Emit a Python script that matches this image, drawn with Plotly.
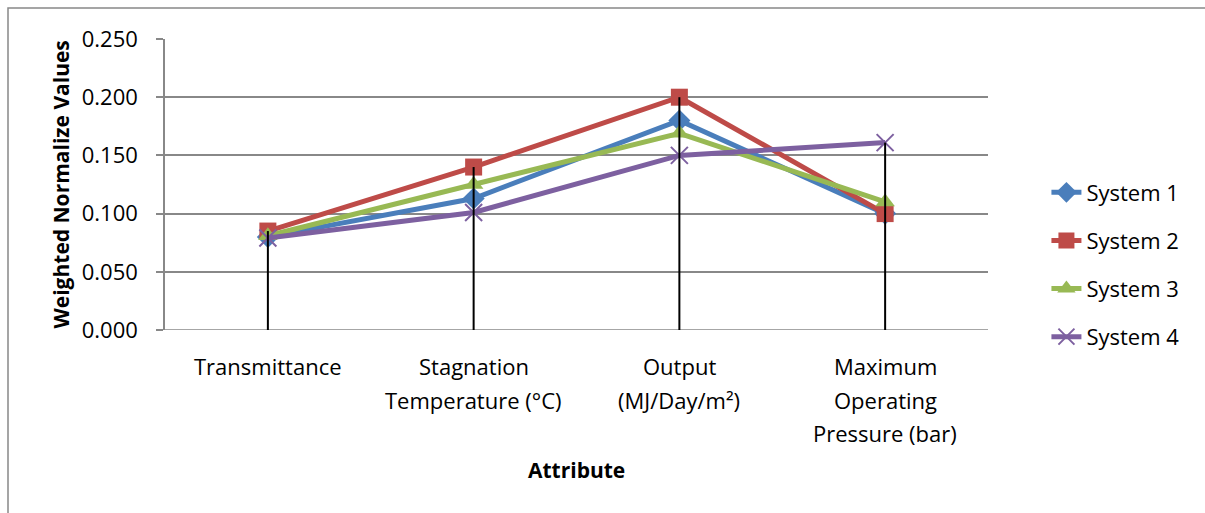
import plotly.graph_objects as go

categories = ["Transmittance", "Stagnation<br>Temperature (°C)", "Output<br>(MJ/Day/m²)",
              "Maximum<br>Operating<br>Pressure (bar)"]
series_names = ["System 1", "System 2", "System 3", "System 4"]
system1 = [0.080, 0.113, 0.180, 0.100]
system2 = [0.085, 0.140, 0.200, 0.100]
system3 = [0.081, 0.125, 0.169, 0.110]
system4 = [0.079, 0.101, 0.150, 0.161]
y_ticks = [0.0, 0.05, 0.10, 0.15, 0.20, 0.25]

colors = ["#4A7EBB", "#BE4B48", "#98B954", "#7D60A0"]
symbols = ["diamond", "square", "triangle-up", "x-thin-open"]
sizes = [17, 17, 17, 17]
FONT = "Open Sans"
FS = 22
PLOT_H = 291

fig = go.Figure()
all_series = [system1, system2, system3, system4]
for i, (name, vals) in enumerate(zip(series_names, all_series)):
    marker = dict(symbol=symbols[i], size=sizes[i], color=colors[i])
    if symbols[i] == "x-thin-open":
        marker["line"] = dict(color=colors[i], width=2)
    fig.add_trace(go.Scatter(
        x=categories, y=vals, name=name, mode="lines+markers",
        line=dict(color=colors[i], width=5), marker=marker,
        legendgroup=name,
    ))

# drop lines from highest value to axis
dx, dy = [], []
for j, c in enumerate(categories):
    top = max(s[j] for s in all_series)
    dx += [c, c, None]
    dy += [0, top, None]
fig.add_trace(go.Scatter(x=dx, y=dy, mode="lines", line=dict(color="black", width=2),
                         showlegend=False, hoverinfo="skip"))

# category labels: one line per annotation, placed on the category axis
annotations = []
for c in categories:
    for k, line in enumerate(c.split("<br>")):
        annotations.append(dict(text=line, xref="x", yref="paper", x=c,
                                y=-(36 + 33.5 * k) / PLOT_H, xanchor="center",
                                yanchor="middle", showarrow=False,
                                font=dict(family=FONT, size=FS)))

annotations += [
    dict(text="<b>Weighted Normalize Values</b>", xref="paper", yref="paper",
         x=(60 - 165) / 823, y=0.5, xanchor="center", yanchor="middle",
         textangle=-90, showarrow=False, font=dict(family=FONT, size=21)),
    dict(text="<b>Attribute</b>", xref="paper", yref="paper",
         x=0.5, y=(330 - 470) / PLOT_H, xanchor="center", yanchor="middle",
         showarrow=False, font=dict(family=FONT, size=21)),
]

fig.update_layout(
    width=1205, height=513,
    margin=dict(l=165, r=217, t=39, b=183),
    paper_bgcolor="white", plot_bgcolor="white",
    font=dict(family=FONT, size=FS, color="black"),
    showlegend=True,
    legend=dict(x=1.071, xanchor="left", y=0.225, yanchor="middle",
                font=dict(family=FONT, size=FS), tracegroupgap=16.5,
                bgcolor="rgba(0,0,0,0)"),
    xaxis=dict(type="category", showgrid=False, showline=False, ticks="",
               showticklabels=False, range=[-0.5, 3.5], zeroline=False),
    yaxis=dict(range=[0, 0.25], tickvals=y_ticks, tickformat=".3f",
               showgrid=True, gridcolor="#888888", gridwidth=1.5,
               showline=True, linecolor="#888888", linewidth=1.5,
               ticks="outside", ticklen=7, tickcolor="#888888", tickwidth=1.5,
               tickfont=dict(family=FONT, size=FS), zeroline=False,
               ticklabelstandoff=14),
    annotations=annotations,
    shapes=[
        dict(type="rect", xref="paper", yref="paper",
             x0=(8 - 165) / 823, x1=(1215 - 165) / 823,
             y0=(330 - 520) / PLOT_H, y1=(330 - 8) / PLOT_H,
             line=dict(color="#888888", width=1.5), layer="below"),
    ],
)
# x axis baseline at zero
fig.add_shape(type="line", xref="paper", yref="y", x0=0, x1=1, y0=0, y1=0,
              line=dict(color="#888888", width=1.5), layer="below")

fig.write_html("out.html")
